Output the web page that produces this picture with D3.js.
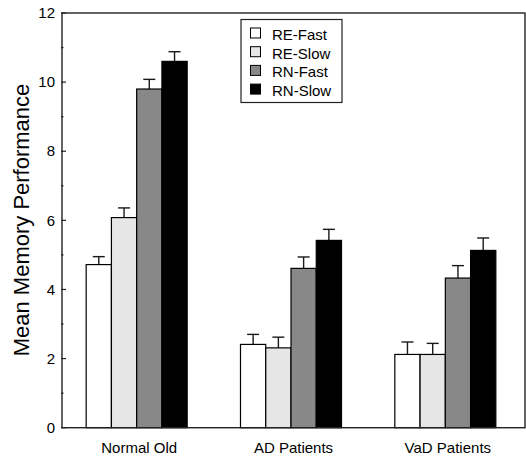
<!DOCTYPE html>
<meta charset="utf-8">
<style>
  body { margin: 0; background: #fff; }
  text { font-family: "Liberation Sans", Arial, Helvetica, sans-serif; fill: #000; }
</style>
<body>
  <div id="chart"></div>

  <script src="https://d3js.org/d3.v7.min.js"></script>
  <script>
  const groups = ["Normal Old", "AD Patients", "VaD Patients"];
  const series = ["RE-Fast", "RE-Slow", "RN-Fast", "RN-Slow"];
  const colors = ["#ffffff", "#e6e6e6", "#888888", "#000000"];

  // mean per group, in series order
  const means = [
    [4.72, 6.08, 9.80, 10.60],
    [2.41, 2.31, 4.61, 5.42],
    [2.12, 2.12, 4.33, 5.13]
  ];
  // standard error (height of error bar above mean)
  const errors = [
    [0.23, 0.28, 0.28, 0.28],
    [0.29, 0.31, 0.33, 0.32],
    [0.36, 0.32, 0.36, 0.36]
  ];
  const yTicks = [0, 2, 4, 6, 8, 10, 12];
  const yMinor = [1, 3, 5, 7, 9, 11];

  // ——— layout ———
  const W = 526, H = 457;
  const mLeft = 62, mRight = 525, mTop = 13, mBottom = 427.7;

  const svg = d3.select("#chart").append("svg")
      .attr("width", W)
      .attr("height", H);

  const x0 = d3.scaleBand()
      .domain(groups)
      .range([mLeft, mRight]);

  const groupW = 101;
  const x1 = d3.scaleBand()
      .domain(series)
      .range([0, groupW]);

  const color = d3.scaleOrdinal().domain(series).range(colors);

  const y = d3.scaleLinear()
      .domain([0, 12])
      .range([mBottom, mTop]);

  // bars sit a touch left of the band centre, like the original
  const gx = g => x0(g) + x0.bandwidth() / 2 - 53;

  const rows = groups.flatMap((g, i) => series.map((s, j) => ({
    group: g, series: s, value: means[i][j], err: errors[i][j]
  })));

  // error bars (drawn under the bars so only the upper half shows)
  const eb = svg.append("g")
      .attr("stroke", "#1a1a1a")
      .attr("stroke-width", 1.4);

  eb.selectAll("line.stem")
    .data(rows)
    .join("line")
      .attr("class", "stem")
      .attr("x1", d => gx(d.group) + x1(d.series) + x1.bandwidth() / 2)
      .attr("x2", d => gx(d.group) + x1(d.series) + x1.bandwidth() / 2)
      .attr("y1", d => y(d.value))
      .attr("y2", d => y(d.value + d.err));

  eb.selectAll("line.cap")
    .data(rows)
    .join("line")
      .attr("class", "cap")
      .attr("x1", d => gx(d.group) + x1(d.series) + x1.bandwidth() / 2 - 6)
      .attr("x2", d => gx(d.group) + x1(d.series) + x1.bandwidth() / 2 + 6)
      .attr("y1", d => y(d.value + d.err))
      .attr("y2", d => y(d.value + d.err));

  svg.append("g")
    .selectAll("rect")
    .data(rows)
    .join("rect")
      .attr("x", d => gx(d.group) + x1(d.series))
      .attr("width", x1.bandwidth())
      .attr("y", d => y(d.value))
      .attr("height", d => y(0) - y(d.value))
      .attr("fill", d => color(d.series))
      .attr("stroke", "#000")
      .attr("stroke-width", 1.2);

  // ——— frame ———
  svg.append("rect")
      .attr("x", mLeft)
      .attr("y", mTop)
      .attr("width", mRight - mLeft)
      .attr("height", mBottom - mTop)
      .attr("fill", "none")
      .attr("stroke", "#222")
      .attr("stroke-width", 1.4);

  // ——— y axis ———
  svg.append("g")
    .selectAll("line")
    .data(yTicks.concat(yMinor))
    .join("line")
      .attr("x1", mLeft - 1)
      .attr("x2", d => yMinor.includes(d) ? mLeft + 1.5 : mLeft + 4)
      .attr("y1", d => y(d))
      .attr("y2", d => y(d))
      .attr("stroke", "#222")
      .attr("stroke-width", 1.2);

  svg.append("g")
    .selectAll("text")
    .data(yTicks)
    .join("text")
      .attr("x", mLeft - 7)
      .attr("y", d => y(d))
      .attr("dy", "0.35em")
      .attr("text-anchor", "end")
      .attr("font-size", 15)
      .text(d => d);

  svg.append("text")
      .attr("transform", "translate(29,220) rotate(-90)")
      .attr("text-anchor", "middle")
      .attr("font-size", 22)
      .text("Mean Memory Performance");

  // ——— x labels ———
  svg.append("g")
    .selectAll("text")
    .data(groups)
    .join("text")
      .attr("x", d => x0(d) + x0.bandwidth() / 2)
      .attr("y", 453)
      .attr("text-anchor", "middle")
      .attr("font-size", 15)
      .text(d => d);

  // ——— legend ———
  const lg = svg.append("g").attr("transform", "translate(241,19.5)");
  lg.append("rect")
      .attr("width", 101)
      .attr("height", 83)
      .attr("fill", "#fff")
      .attr("stroke", "#222")
      .attr("stroke-width", 1.2);

  const item = lg.selectAll("g.item")
    .data(series)
    .join("g")
      .attr("class", "item")
      .attr("transform", (d, i) => `translate(0,${16 + i * 18.7})`);

  item.append("rect")
      .attr("x", 9.5)
      .attr("y", -7.5)
      .attr("width", 10)
      .attr("height", 10)
      .attr("fill", d => color(d))
      .attr("stroke", "#000")
      .attr("stroke-width", 1);

  item.append("text")
      .attr("x", 31)
      .attr("y", 0)
      .attr("dy", "0.3em")
      .attr("font-size", 15)
      .text(d => d);
  </script>
</body>
